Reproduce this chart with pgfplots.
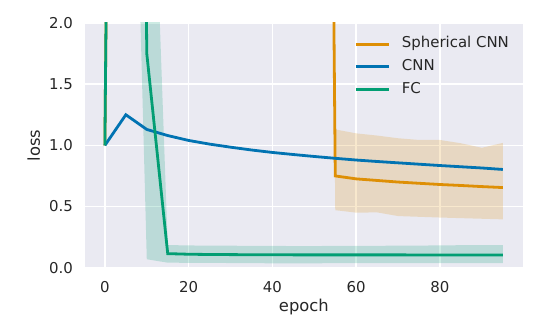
\documentclass[border=0pt]{standalone}
\usepackage{fontspec}
\setmainfont{DejaVu Sans}
\usepackage{pgfplots}
\usepackage{pgfplotstable}
\pgfplotsset{compat=1.18}
\usepgfplotslibrary{fillbetween}

\definecolor{cbBlue}{HTML}{0173B2}
\definecolor{cbOrange}{HTML}{DE8F05}
\definecolor{cbGreen}{HTML}{029E73}
\definecolor{bgGray}{HTML}{EAEAF2}
\definecolor{txt}{HTML}{262626}

% mean curves (values above 2 run off the top of the plot)
\pgfplotstableread{
epoch sph cnn fc
0  1.0   1.00  1.0
5  20    1.25  20
10 20    1.13  1.75
15 20    1.08  0.115
20 20    1.04  0.110
25 20    1.01  0.108
30 20    0.985 0.107
35 20    0.962 0.106
40 20    0.942 0.106
45 20    0.925 0.105
50 20    0.909 0.105
55 0.750 0.894 0.105
60 0.726 0.880 0.105
65 0.713 0.868 0.105
70 0.700 0.857 0.105
75 0.690 0.846 0.104
80 0.680 0.835 0.104
85 0.672 0.825 0.104
90 0.663 0.815 0.104
95 0.655 0.803 0.104
}\means

% spread bands
\pgfplotstableread{
epoch lo hi
50 18    25
55 0.470 1.130
60 0.450 1.098
65 0.452 1.080
70 0.422 1.058
75 0.416 1.044
80 0.410 1.044
85 0.405 1.017
90 0.400 0.980
95 0.395 1.020
}\sphband

\pgfplotstableread{
epoch lo hi
5  6.5   25
10 0.069 5.0
15 0.041 0.185
20 0.040 0.182
25 0.040 0.180
30 0.038 0.180
35 0.037 0.178
40 0.036 0.178
45 0.036 0.177
50 0.036 0.177
55 0.037 0.178
60 0.037 0.178
65 0.037 0.179
70 0.038 0.180
75 0.038 0.181
80 0.038 0.182
85 0.038 0.184
90 0.038 0.185
95 0.038 0.185
}\fcband

\begin{document}
\begin{tikzpicture}
\begin{axis}[
    scale only axis,
    width=437.7bp, height=244.7bp,
    xmin=-4.75, xmax=99.75,
    ymin=0, ymax=2,
    xtick={0,20,...,80},
    ytick={0,0.5,...,2},
    yticklabel style={/pgf/number format/fixed, /pgf/number format/fixed zerofill, /pgf/number format/precision=1},
    /pgf/number format/assume math mode=true,
    axis background/.style={fill=bgGray},
    axis line style={draw=none},
    major tick length=0pt,
    grid=major,
    major grid style={white, line width=1.6bp},
    tick label style={font=\fontsize{15}{18}\selectfont, text=txt, inner sep=0pt},
    yticklabel style={anchor=east, xshift=-12bp},
    xticklabel style={anchor=north, yshift=-14bp},
    label style={font=\fontsize{16.4}{19}\selectfont, text=txt},
    xlabel={epoch},
    ylabel={loss},
    xlabel style={at={(axis description cs:0.5,0)}, anchor=base, yshift=-44bp},
    ylabel style={at={(axis description cs:0,0.5)}, anchor=base, yshift=45bp},
    legend image code/.code={\draw[#1] (0bp,0bp) -- (33bp,0bp);},
    legend cell align=left,
    legend style={draw=none, fill=none, inner sep=0pt,
        at={(axis description cs:0.615,0.944)}, anchor=north west,
        font=\fontsize{15}{18}\selectfont, text=txt,
        nodes={inner sep=0pt, text height=11bp, text depth=3.5bp},
        row sep=8.2bp,
        /tikz/every odd column/.append style={column sep=11.7bp}},
]
% Spherical CNN
\addplot[name path=sphlo, draw=none, forget plot] table[x=epoch, y=lo] {\sphband};
\addplot[name path=sphhi, draw=none, forget plot] table[x=epoch, y=hi] {\sphband};
\addplot[cbOrange, fill opacity=0.2, forget plot] fill between[of=sphlo and sphhi];
\addplot[cbOrange, line width=2.8bp] table[x=epoch, y=sph] {\means};
\addlegendentry{Spherical CNN}
% CNN
\addplot[cbBlue, line width=2.8bp] table[x=epoch, y=cnn] {\means};
\addlegendentry{CNN}
% FC
\addplot[name path=fclo, draw=none, forget plot] table[x=epoch, y=lo] {\fcband};
\addplot[name path=fchi, draw=none, forget plot] table[x=epoch, y=hi] {\fcband};
\addplot[cbGreen, fill opacity=0.2, forget plot] fill between[of=fclo and fchi];
\addplot[cbGreen, line width=2.8bp] table[x=epoch, y=fc] {\means};
\addlegendentry{FC}
\end{axis}
\pgfresetboundingbox
\path (-85bp,-66.3bp) rectangle (455bp,267.7bp);
\end{tikzpicture}
\end{document}
